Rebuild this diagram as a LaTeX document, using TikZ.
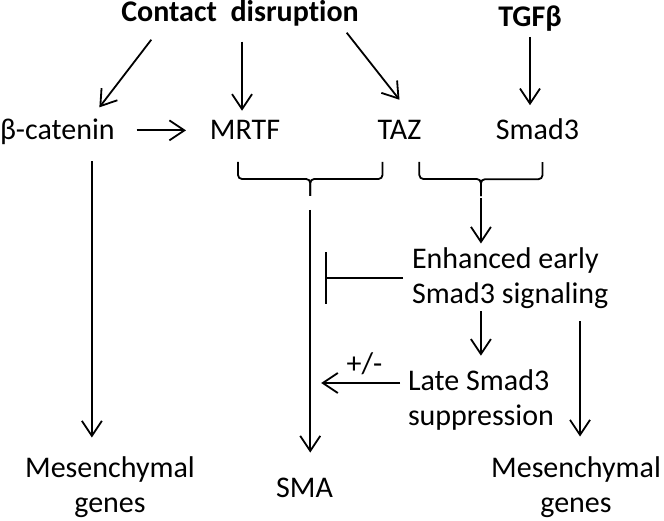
\documentclass[tikz,border=0pt]{standalone}
\usepackage{fontspec}
\setmainfont{Carlito}[Ligatures=NoCommon]
\usetikzlibrary{arrows.meta,calc}

\tikzset{
    lbl/.style={font=\fontsize{30}{35}\selectfont, inner sep=0pt, outer sep=0pt},
    head/.style={lbl, font=\fontsize{30}{35}\selectfont\bfseries},
    arr/.style={-{Straight Barb[length=15pt,width=20pt]}, line width=1.8pt},
    inh/.style={-{Bar[width=52pt]}, line width=1.8pt},
    brace/.style={line width=1.8pt, rounded corners=4pt},
}
\newcommand\DrawBrace[3]{%
    \coordinate (#3) at ($(#1)!0.5!(#2)+(0,34)$);
    \draw[brace] (#1) -- ++(0,17) -| (#3);
    \draw[brace] (#2) -- ++(0,17) -| (#3);
}

\begin{document}
\begin{tikzpicture}[x=1pt, y=-1pt]
    \useasboundingbox (0,0) rectangle (664,521);
    % inputs
    \node[head, anchor=base] (cd) at (240,22) {Contact~~disruption};
    \node[head, anchor=base] (tgf) at (530,27) {TGFβ};
    \node[lbl, anchor=base west] (bcat) at (0,140) {β-catenin};
    \node[lbl, anchor=base] (mrtf) at (245,140) {MRTF};
    \node[lbl, anchor=base] (taz) at (399.5,140) {TAZ};
    \node[lbl, anchor=base] (smad) at (537.5,140) {Smad3};
    % Smad3 signaling
    \node[lbl, align=left, anchor=west] (enh) at (412,278) {Enhanced early\\Smad3 signaling};
    \node[lbl, align=left, anchor=west] (late) at (408,400) {Late Smad3\\suppression};
    % outputs
    \node[lbl, align=center] (mesl) at (110,487) {Mesenchymal\\genes};
    \node[lbl, anchor=base] (sma) at (304.5,497) {SMA};
    \node[lbl, align=center] (mesr) at (576,487) {Mesenchymal\\genes};

    \draw[arr] ([shift={(30,13)}]cd.south west) -- ([shift={(42,-12)}]bcat.north);
    \draw[arr] ([shift={(2,15)}]cd.south) -- ([shift={(-3,-10)}]mrtf.north);
    \draw[arr] ([shift={(-12,6)}]cd.south east) -- ([shift={(0,-21)}]taz.north);
    \draw[arr] ([shift={(0,5)}]tgf.south) -- ([shift={(0,-14)}]tgf.south |- smad.north);
    \draw[arr] ([xshift=22pt]bcat.east |- mrtf.west) -- ([xshift=-24pt]mrtf.west);

    \coordinate (b1l) at ([shift={(28,22)}]mrtf.south west);
    \coordinate (b1r) at ([shift={(-17,22)}]taz.south);
    \coordinate (b2l) at ([shift={(-2,22)}]taz.south east);
    \coordinate (b2r) at ([shift={(5,22)}]smad.south);
    \DrawBrace{b1l}{b1r}{b1tip}
    \DrawBrace{b2l}{b2r}{b2tip}

    \draw[arr, shorten >=25pt] ([shift={(0,14)}]b1tip) -- (b1tip |- sma.north);
    \draw[arr, shorten >=4pt] ([shift={(0,2)}]b2tip) -- (b2tip |- enh.north);
    \draw[inh] ([shift={(-9,0)}]enh.west) -- ([shift={(15,0)}]b1tip |- enh.west);
    \draw[arr] ([shift={(0,3)}]b2tip |- enh.south) -- ([shift={(0,-14)}]b2tip |- late.north);
    \draw[arr] ([shift={(4,13)}]mesr.north |- enh.south) -- ([shift={(4,-20)}]mesr.north);
    \draw[arr] ([shift={(-8,-17)}]late.west) -- ([shift={(11,-17)}]b1tip |- late.west)
        node[lbl, pos=0.45, above=8pt] (pm) {+/-};
    \draw[arr, shorten >=19pt] ([shift={(34.5,16)}]bcat.south) -- ([shift={(34.5,0)}]bcat.south |- mesl.north);
\end{tikzpicture}
\end{document}
